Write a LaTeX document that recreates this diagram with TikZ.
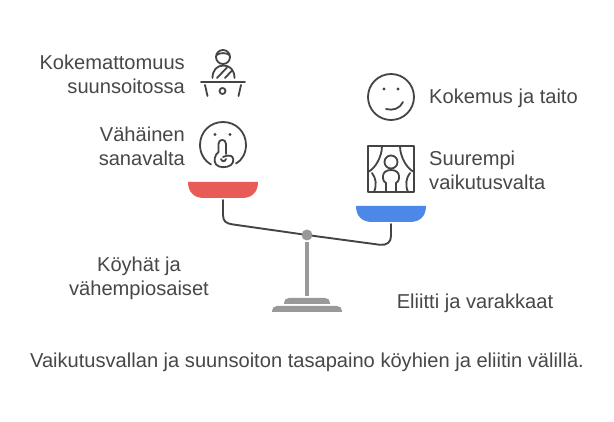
\documentclass[tikz,border=0pt]{standalone}
\usepackage{fontspec}
\setmainfont{Liberation Sans}
\definecolor{ink}{HTML}{444444}
\definecolor{txt}{HTML}{474747}
\definecolor{steel}{HTML}{999999}
\definecolor{redpan}{HTML}{E85B56}
\definecolor{bluepan}{HTML}{4D87E8}
\tikzset{
  lbl/.style={text=txt,font=\fontsize{20.1}{24}\selectfont,inner sep=0pt},
  lblr/.style={lbl,align=right,anchor=east},
  lbll/.style={lbl,align=left,anchor=west},
  lblc/.style={lbl,align=center},
  icon/.style={draw=ink,line width=1.8pt,line cap=round,line join=round},
  beam/.style={draw=ink,line width=1.9pt,line cap=round},
  base/.style={fill=steel,draw=none}
}
\begin{document}
\begin{tikzpicture}[x=1pt,y=-1pt]
\useasboundingbox (0,0) rectangle (614,422);
\fill[white] (0,0) rectangle (614,422);
% labels
\node[lblr] (t1) at (185,74) {Kokemattomuus\\suunsoitossa};
\node[lblr] (t2) at (185,146) {Vähäinen\\sanavalta};
\node[lbll] (t3) at (429,98) {Kokemus ja taito};
\node[lbll] (t4) at (429,170) {Suurempi\\vaikutusvalta};
\node[lblc] (t5) at (139,278.5) {Köyhät ja\\vähempiosaiset};
\node[lblc] (t6) at (475,303) {Eliitti ja varakkaat};
\node[lbl] (t7) at (307,362) {Vaikutusvallan ja suunsoiton tasapaino köyhien ja eliitin välillä.};
% scale
\fill[redpan] (188,182) -- (258,182) .. controls (258,192) and (252,198) .. (242,198) -- (204,198) .. controls (194,198) and (188,192) .. (188,182) -- cycle;
\fill[bluepan] (356,206) -- (426,206) .. controls (426,216) and (420,222) .. (410,222) -- (372,222) .. controls (362,222) and (356,216) .. (356,206) -- cycle;
\node[circle,fill=steel,minimum size=11pt,inner sep=0pt] (pivot) at (307,235) {};
\coordinate (lefthang) at (223,200);
\coordinate (righthang) at (391,224);
\draw[beam] (lefthang) -- (223,215) .. controls (223,221) and (226,223.5) .. (232,224.3) -- (pivot);
\draw[beam] (pivot) -- (380,244.8) .. controls (387,245.5) and (391,242) .. (391,236) -- (righthang);
\fill[base] (305,242) rectangle (309,296);
\fill[base] (284,304) -- (284,303) .. controls (284,300) and (286,298) .. (289,298) -- (325,298) .. controls (328,298) and (330,300) .. (330,303) -- (330,304) -- cycle;
\fill[base] (272,312) -- (272,311) .. controls (272,308) and (274,306) .. (277,306) -- (337,306) .. controls (340,306) and (342,308) .. (342,311) -- (342,312) -- cycle;
% presenter icon
\draw[icon] (223,57) circle (7);
\draw[icon] (216.5,55) .. controls (220,52.5) and (226,52.5) .. (229.5,55);
\draw[icon] (212.5,78) .. controls (212.5,70) and (217,65.5) .. (223.5,65.5) .. controls (230,65.5) and (234.5,70) .. (234.5,78);
\draw[icon] (217,78) -- (227,67.5);
\draw[icon] (225,78) -- (232,70.5);
\draw[icon] (201,82) -- (245,82);
\draw[icon] (205,85) -- (207.5,96);
\draw[icon] (241,85) -- (238.5,96);
\draw[icon] (222.5,91) circle (3);
% shush icon
\draw[icon] (211,164.5) .. controls (204,160.5) and (200,153) .. (200,145) .. controls (200,132) and (210,122) .. (223,122) .. controls (236,122) and (246,132) .. (246,145) .. controls (246,153) and (242,160.5) .. (236,163.5);
\fill[ink] (215,134.5) circle (1.6);
\fill[ink] (230,134.5) circle (1.6);
\draw[icon] (218.5,152) -- (218.5,144) .. controls (218.5,138.5) and (226,138.5) .. (226,144) -- (226,154);
\draw[icon] (218.5,152) .. controls (214.5,155) and (213.5,161) .. (216,164.5) .. controls (219,168) and (227,168) .. (231,165) .. controls (235,162) and (233,156) .. (231,156) .. controls (229,155) and (227,155.5) .. (223,157);
\draw[icon] (221,159) .. controls (222,162) and (225,162) .. (226,159);
% smile icon
\draw[icon] (391,97) circle (23);
\fill[ink] (384,89) circle (1.6);
\fill[ink] (398,89) circle (1.6);
\draw[icon] (386,109) .. controls (393,111) and (400,108.5) .. (403,102);
% curtain icon
\draw[icon] (368,146) rectangle (414,192);
\draw[icon] (382,146) .. controls (382,156) and (376,168) .. (368,172);
\draw[icon] (400,146) .. controls (400,156) and (406,168) .. (414,172);
\draw[icon] (372,173) .. controls (376,178) and (377,185) .. (374,192);
\draw[icon] (410,173) .. controls (406,178) and (405,185) .. (408,192);
\draw[icon] (391,162) circle (6.5);
\draw[icon] (386,192) -- (386,183) .. controls (382.5,181) and (383,178) .. (383,176) .. controls (383,172) and (387,170) .. (391,170) .. controls (395,170) and (399,172) .. (399,176) .. controls (399,178) and (399.5,181) .. (396,183) -- (396,192);
\end{tikzpicture}
\end{document}
